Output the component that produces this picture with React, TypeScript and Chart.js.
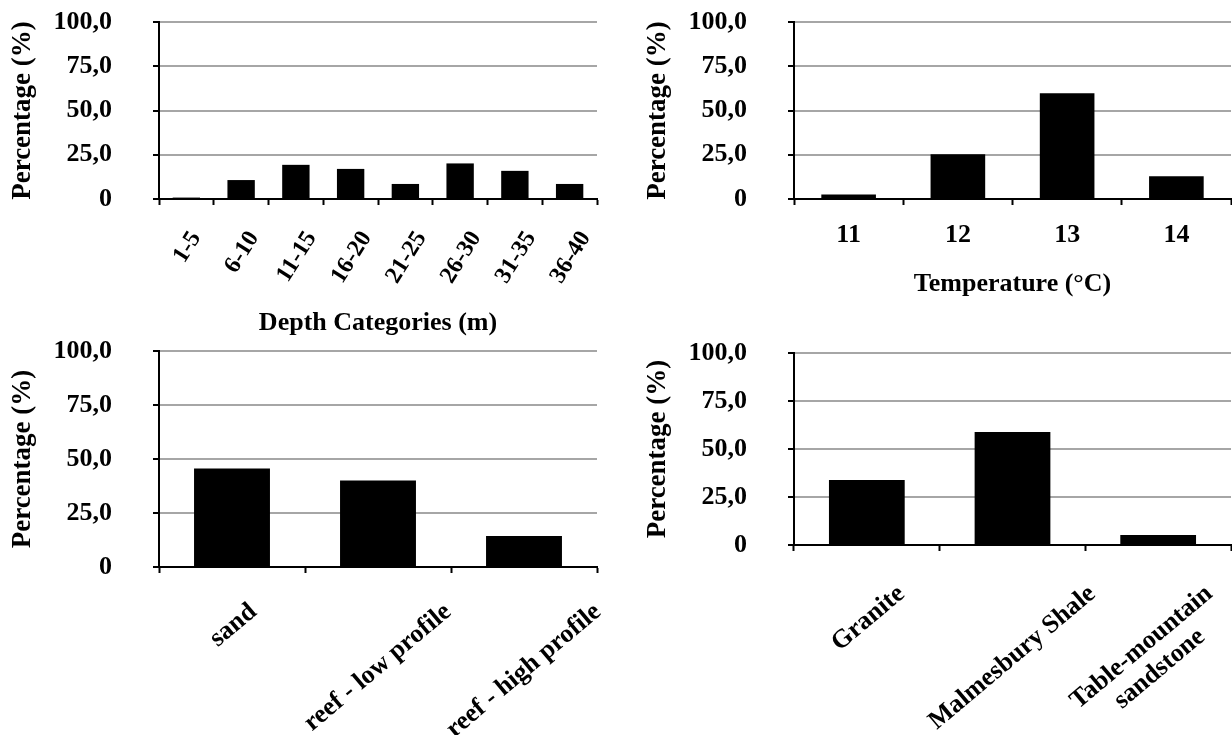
import React, { useEffect, useRef } from 'react';
import { Chart, registerables } from 'chart.js';

Chart.register(...registerables);

// ---- Data ----
const depthCategories = ['1-5', '6-10', '11-15', '16-20', '21-25', '26-30', '31-35', '36-40'];
const depthValues = [0.8, 10.7, 19.3, 17.0, 8.5, 20.1, 15.9, 8.5];

const temperatureCategories = ['11', '12', '13', '14'];
const temperatureValues = [2.5, 25.3, 59.8, 12.8];

const habitatCategories = ['sand', 'reef - low profile', 'reef - high profile'];
const habitatValues = [45.6, 40.0, 14.4];

const geologyCategories = [['Granite'], ['Malmesbury Shale'], ['Table-mountain', 'sandstone']];
const geologyValues = [33.8, 58.8, 5.2];

const yAxisTitle = 'Percentage (%)';
const depthTitle = 'Depth Categories (m)';
const temperatureTitle = 'Temperature (°C)';

// ---- Styling ----
const FONT_FAMILY = '"Liberation Serif", "Times New Roman", serif';
const FONT_SIZE = 26;
const GRID_GREY = '#a6a6a6';

const rotatedLabelsPlugin = {
  id: 'rotatedLabels',
  afterDraw(chart: any, _args: any, opts: any) {
    if (!opts || !opts.enabled) return;
    const scale = chart.scales.x;
    const ctx = chart.ctx;
    const fs = opts.size;
    const lh = opts.lineHeight;
    const th = (opts.angle * Math.PI) / 180;
    const cs = Math.cos(th);
    const sn = Math.sin(th);
    ctx.save();
    ctx.font = `bold ${fs}px ${FONT_FAMILY}`;
    ctx.fillStyle = '#000';
    const labels = chart.data.labels || [];
    labels.forEach((lab: any, i: number) => {
      const lines: string[] = Array.isArray(lab) ? lab : [lab];
      const pts: number[][] = [];
      const lastPts: number[][] = [];
      lines.forEach((line, k) => {
        const m = ctx.measureText(line);
        const w = m.width;
        const asc = m.actualBoundingBoxAscent;
        const desc = m.actualBoundingBoxDescent;
        const vb = k * lh;
        for (const u of [-w / 2, w / 2]) {
          for (const v of [vb - asc, vb + desc]) {
            const pt = [u * cs + v * sn, -u * sn + v * cs];
            pts.push(pt);
            if (k === lines.length - 1) lastPts.push(pt);
          }
        }
      });
      const xs = lastPts.map((p) => p[0]);
      const ys = pts.map((p) => p[1]);
      const cx = (Math.min(...xs) + Math.max(...xs)) / 2;
      const minY = Math.min(...ys);
      const ox = scale.getPixelForTick(i) - cx;
      const oy = scale.top + opts.gap - minY;
      lines.forEach((line, k) => {
        const vb = k * lh;
        ctx.save();
        ctx.translate(ox + vb * sn, oy + vb * cs);
        ctx.rotate(-th);
        ctx.textAlign = 'center';
        ctx.textBaseline = 'alphabetic';
        ctx.fillText(line, 0, 0);
        ctx.restore();
      });
    });
    ctx.restore();
  },
};

type PanelProps = {
  left: number;
  top: number;
  width: number;
  height: number;
  labels: any[];
  values: number[];
  padTop: number;
  padRight: number;
  xHeight: number;
  rotate: boolean;
  angle?: number;
  labelSize?: number;
  gap?: number;
  xTitle?: string;
  xTitlePad?: number;
  barPct: number;
};

function Panel(p: PanelProps) {
  const ref = useRef<HTMLCanvasElement | null>(null);
  useEffect(() => {
    if (!ref.current) return;
    const font = { family: FONT_FAMILY, size: FONT_SIZE, weight: 'bold' as const };
    const chart = new Chart(ref.current, {
      type: 'bar',
      data: {
        labels: p.labels,
        datasets: [
          {
            data: p.values,
            backgroundColor: '#000',
            borderWidth: 0,
            barPercentage: p.barPct,
            categoryPercentage: 1,
          },
        ],
      },
      options: {
        animation: false,
        responsive: false,
        maintainAspectRatio: false,
        devicePixelRatio: 1,
        layout: { padding: { top: p.padTop, right: p.padRight, bottom: 0, left: 0 } },
        plugins: {
          legend: { display: false },
          tooltip: { enabled: false },
          rotatedLabels: {
            enabled: p.rotate,
            size: p.labelSize ?? FONT_SIZE,
            lineHeight: 28,
            gap: p.gap ?? 30,
            angle: p.angle ?? 45,
          },
        } as any,
        scales: {
          x: {
            type: 'category',
            offset: true,
            grid: {
              display: true,
              drawOnChartArea: false,
              drawTicks: true,
              tickLength: 6,
              tickColor: '#000',
              tickWidth: 2,
              offset: true,
            },
            border: { display: true, color: '#000', width: 2 },
            ticks: {
              display: !p.rotate,
              font,
              color: '#000',
              padding: 15,
              maxRotation: 0,
              minRotation: 0,
              autoSkip: false,
            },
            title: {
              display: !!p.xTitle,
              text: p.xTitle || '',
              font,
              color: '#000',
              padding: { top: 0, bottom: p.xTitlePad ?? 0 },
            },
            afterFit: (s: any) => {
              s.height = p.xHeight;
              s.paddingLeft = 0;
              s.paddingRight = 0;
            },
          },
          y: {
            min: 0,
            max: 100,
            ticks: {
              stepSize: 25,
              callback: (v: any) => (Number(v) === 0 ? '0' : Number(v).toFixed(1).replace('.', ',')),
              font,
              color: '#000',
              padding: 41,
            },
            grid: {
              color: (ctx: any) => (ctx.tick && ctx.tick.value === 0 ? '#000' : GRID_GREY),
              lineWidth: 2,
              drawTicks: true,
              tickLength: 6,
              tickColor: '#000',
              tickWidth: 2,
            },
            border: { display: true, color: '#000', width: 2 },
            title: {
              display: true,
              text: yAxisTitle,
              font: { family: FONT_FAMILY, size: 27, weight: 'bold' },
              color: '#000',
              padding: { top: 7, bottom: 0 },
            },
            afterFit: (s: any) => {
              s.width = 159;
              s.paddingTop = 0;
              s.paddingBottom = 0;
            },
          },
        },
      } as any,
      plugins: [rotatedLabelsPlugin as any],
    });
    return () => chart.destroy();
  }, []);
  return (
    <canvas
      ref={ref}
      width={p.width}
      height={p.height}
      style={{ position: 'absolute', left: p.left, top: p.top, width: p.width, height: p.height }}
    />
  );
}

export default function App() {
  return (
    <div style={{ position: 'absolute', left: 0, top: 0, width: 1232, height: 735, background: '#fff', overflow: 'hidden' }}>
      <Panel
        left={0}
        top={0}
        width={616}
        height={345}
        labels={depthCategories}
        values={depthValues}
        padTop={22}
        padRight={19}
        xHeight={146}
        rotate={true}
        angle={58}
        labelSize={24}
        gap={30}
        xTitle={depthTitle}
        xTitlePad={6}
        barPct={0.5}
      />
      <Panel
        left={635}
        top={0}
        width={597}
        height={320}
        labels={temperatureCategories}
        values={temperatureValues}
        padTop={22}
        padRight={1}
        xHeight={121}
        rotate={false}
        xTitle={temperatureTitle}
        xTitlePad={20}
        barPct={0.5}
      />
      <Panel
        left={0}
        top={330}
        width={616}
        height={405}
        labels={habitatCategories}
        values={habitatValues}
        padTop={21}
        padRight={19}
        xHeight={168}
        rotate={true}
        angle={40}
        gap={33}
        barPct={0.52}
      />
      <Panel
        left={635}
        top={330}
        width={597}
        height={405}
        labels={geologyCategories}
        values={geologyValues}
        padTop={23}
        padRight={1}
        xHeight={190}
        rotate={true}
        angle={40}
        gap={37}
        barPct={0.52}
      />
    </div>
  );
}
